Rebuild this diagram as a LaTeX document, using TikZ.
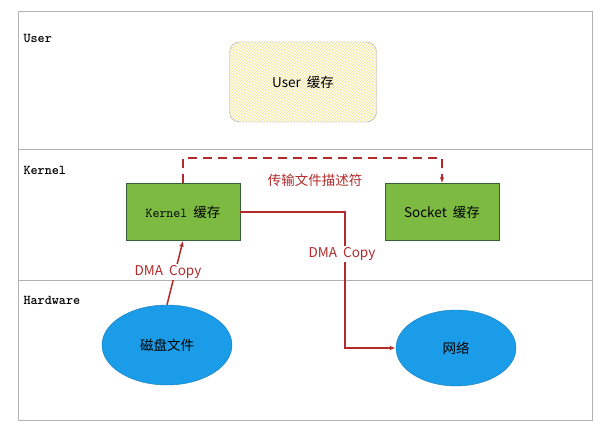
\documentclass[tikz,border=0pt]{standalone}
\usepackage{fontspec}
\newfontfamily\cjk{Noto Sans CJK SC}
\usetikzlibrary{patterns,arrows.meta,shapes.geometric}
\definecolor{gfill}{HTML}{7CBA42}
\definecolor{bfill}{HTML}{1A9CE8}
\definecolor{dred}{HTML}{B22A2A}
\newcommand{\bigf}{\fontsize{13.5}{16}\selectfont}
\begin{document}
\begin{tikzpicture}[x=1pt,y=-1pt,
  lane/.style={gray!60,line width=1pt},
  gbox/.style={draw=gray!70!green!60!black,fill=gfill,minimum width=114pt,minimum height=57pt,inner sep=0pt},
  ell/.style={ellipse,fill=bfill,draw=bfill!80!black},
  red/.style={draw=dred,line width=1.5pt},
  lbl/.style={text=dred,font=\cjk\bigf,fill=white,inner sep=1pt},
  lane label/.style={font=\ttfamily\bfseries\bigf,anchor=west}]
\useasboundingbox (0,0) rectangle (613,433);
\fill[white] (0,0) rectangle (613,433);
\draw[lane] (18,12) rectangle (592,420);
\draw[lane] (18,150) -- (592,150);
\draw[lane] (18,280) -- (592,280);
\node[lane label] (lu) at (20,38) {User};
\node[lane label] (lk) at (20,170) {Kernel};
\node[lane label] (lh) at (20,300) {Hardware};
\node[draw=gray!70,rounded corners=10pt,pattern=north east lines,pattern color=yellow!60!brown!60,minimum width=147pt,minimum height=80pt,font=\cjk\bigf] (user) at (303,82) {User\ \ 缓存};
\node[gbox,font=\cjk\bigf] (kern) at (183,212) {\texttt{Kernel}\ \ 缓存};
\node[gbox,font=\cjk\bigf] (sock) at (442,212) {Socket\ \ 缓存};
\node[ell,minimum width=130pt,minimum height=80pt,font=\cjk\bigf] (disk) at (167,345) {磁盘文件};
\node[ell,minimum width=120pt,minimum height=76pt,font=\cjk\bigf] (net) at (456,348) {网络};
\coordinate (c1) at (183,158);
\coordinate (c2) at (442,158);
\coordinate (c3) at (345,212);
\coordinate (c4) at (345,348);
\draw[red,dashed,dash pattern=on 9pt off 6pt,-{Latex[length=6pt]}] (kern.north) -- (c1) -- (c2) -- (sock.north);
\node[text=dred,font=\cjk\bigf] (t1) at (315,180) {传输文件描述符};
\draw[red,-{Latex[length=6pt]}] (kern.east) -- (c3) -- (c4) -- (net.west);
\node[lbl] (d2) at (342,254) {DMA\ \ Copy};
\draw[red,-{Latex[length=6pt]}] (disk.north) -- (kern.south);
\node[lbl] (d1) at (168,272) {DMA\ \ Copy};
\end{tikzpicture}
\end{document}
